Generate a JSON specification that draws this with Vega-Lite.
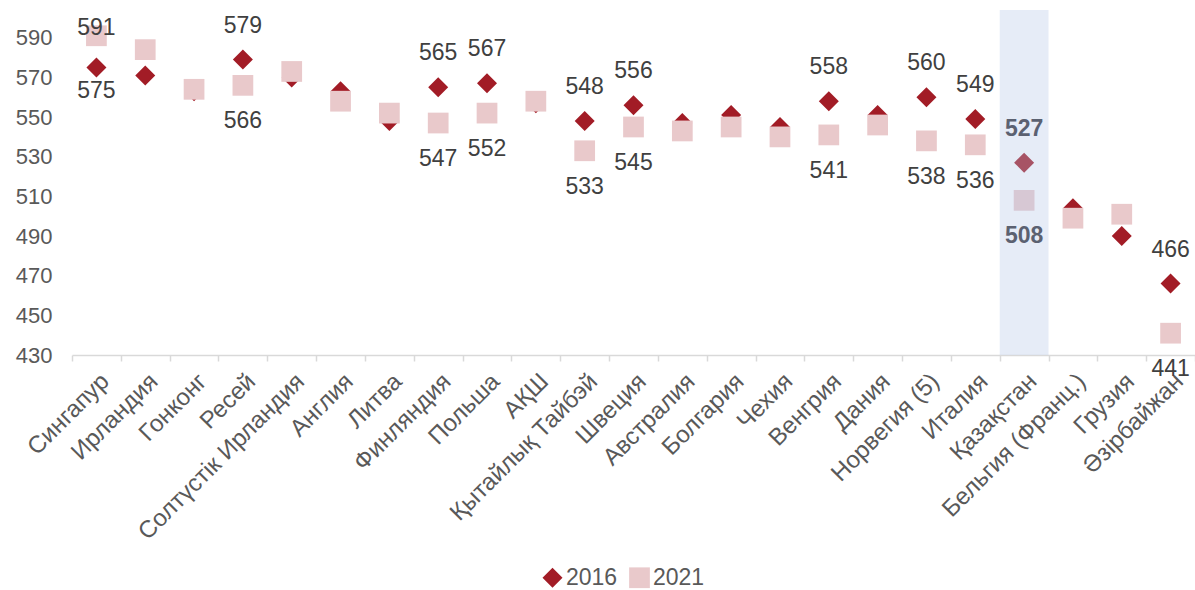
{
  "$schema": "https://vega.github.io/schema/vega-lite/v6.json",
  "autosize": "none",
  "width": 1123,
  "height": 345,
  "padding": {"left": 72, "top": 10, "right": 0, "bottom": 235},
  "config": {"view": {"stroke": null}, "font": "Liberation Sans"},
  "data": {"values": [
    {"country": "Сингапур", "year": "2016", "value": 575, "label": true},
    {"country": "Ирландия", "year": "2016", "value": 571, "label": false},
    {"country": "Гонконг", "year": "2016", "value": 563, "label": false},
    {"country": "Ресей", "year": "2016", "value": 579, "label": true},
    {"country": "Солтүстік Ирландия", "year": "2016", "value": 570, "label": false},
    {"country": "Англия", "year": "2016", "value": 563, "label": false},
    {"country": "Литва", "year": "2016", "value": 548, "label": false},
    {"country": "Финляндия", "year": "2016", "value": 565, "label": true},
    {"country": "Польша", "year": "2016", "value": 567, "label": true},
    {"country": "АҚШ", "year": "2016", "value": 557, "label": false},
    {"country": "Қытайлық Тайбэй", "year": "2016", "value": 548, "label": true},
    {"country": "Швеция", "year": "2016", "value": 556, "label": true},
    {"country": "Австралия", "year": "2016", "value": 547, "label": false},
    {"country": "Болгария", "year": "2016", "value": 551, "label": false},
    {"country": "Чехия", "year": "2016", "value": 545, "label": false},
    {"country": "Венгрия", "year": "2016", "value": 558, "label": true},
    {"country": "Дания", "year": "2016", "value": 551, "label": false},
    {"country": "Норвегия (5)", "year": "2016", "value": 560, "label": true},
    {"country": "Италия", "year": "2016", "value": 549, "label": true},
    {"country": "Қазақстан", "year": "2016", "value": 527, "label": true},
    {"country": "Бельгия (Франц.)", "year": "2016", "value": 504, "label": false},
    {"country": "Грузия", "year": "2016", "value": 490, "label": false},
    {"country": "Әзірбайжан", "year": "2016", "value": 466, "label": true},
    {"country": "Сингапур", "year": "2021", "value": 591, "label": true},
    {"country": "Ирландия", "year": "2021", "value": 584, "label": false},
    {"country": "Гонконг", "year": "2021", "value": 564, "label": false},
    {"country": "Ресей", "year": "2021", "value": 566, "label": true},
    {"country": "Солтүстік Ирландия", "year": "2021", "value": 573, "label": false},
    {"country": "Англия", "year": "2021", "value": 558, "label": false},
    {"country": "Литва", "year": "2021", "value": 552, "label": false},
    {"country": "Финляндия", "year": "2021", "value": 547, "label": true},
    {"country": "Польша", "year": "2021", "value": 552, "label": true},
    {"country": "АҚШ", "year": "2021", "value": 558, "label": false},
    {"country": "Қытайлық Тайбэй", "year": "2021", "value": 533, "label": true},
    {"country": "Швеция", "year": "2021", "value": 545, "label": true},
    {"country": "Австралия", "year": "2021", "value": 543, "label": false},
    {"country": "Болгария", "year": "2021", "value": 545, "label": false},
    {"country": "Чехия", "year": "2021", "value": 540, "label": false},
    {"country": "Венгрия", "year": "2021", "value": 541, "label": true},
    {"country": "Дания", "year": "2021", "value": 546, "label": false},
    {"country": "Норвегия (5)", "year": "2021", "value": 538, "label": true},
    {"country": "Италия", "year": "2021", "value": 536, "label": true},
    {"country": "Қазақстан", "year": "2021", "value": 508, "label": true},
    {"country": "Бельгия (Франц.)", "year": "2021", "value": 499, "label": false},
    {"country": "Грузия", "year": "2021", "value": 501, "label": false},
    {"country": "Әзірбайжан", "year": "2021", "value": 441, "label": true}
  ]},
  "transform": [
    {"joinaggregate": [{"op": "max", "field": "value", "as": "top"}], "groupby": ["country"]}
  ],
  "encoding": {
    "x": {
      "field": "country", "type": "nominal", "sort": null,
      "scale": {"paddingInner": 0, "paddingOuter": 0},
      "axis": {
        "title": null, "labelAngle": -45, "labelFontSize": 24, "labelColor": "#595959",
        "labelPadding": 8, "domainColor": "#d9d9d9", "domainWidth": 1.5,
        "tickColor": "#d9d9d9", "tickWidth": 1.5, "tickSize": 6, "tickBand": "extent",
        "grid": false, "labelOverlap": false, "labelLimit": 400
      }
    }
  },
  "layer": [
    {
      "mark": {"type": "point", "filled": true, "opacity": 1},
      "encoding": {
        "y": {
          "field": "value", "type": "quantitative",
          "scale": {"domain": [430, 604], "nice": false, "zero": false},
          "axis": {
            "title": null, "values": [430, 450, 470, 490, 510, 530, 550, 570, 590],
            "domain": false, "ticks": false, "grid": false,
            "labelFontSize": 22, "labelColor": "#595959", "labelPadding": 20
          }
        },
        "shape": {
          "field": "year", "type": "nominal",
          "scale": {"domain": ["2016", "2021"], "range": ["diamond", "square"]},
          "legend": null
        },
        "size": {
          "field": "year", "type": "nominal",
          "scale": {"domain": ["2016", "2021"], "range": [400, 430]},
          "legend": null
        },
        "color": {
          "field": "year", "type": "nominal",
          "scale": {"domain": ["2016", "2021"], "range": ["#a21c26", "#e9c9cb"]},
          "legend": {
            "title": null, "orient": "none", "direction": "horizontal",
            "legendX": 469, "legendY": 556, "labelFontSize": 23, "labelColor": "#595959",
            "symbolSize": 150, "symbolOpacity": 1,
            "labelOffset": 2, "columnPadding": 10
          }
        }
      }
    },
    {
      "transform": [{"filter": "datum.year === '2016' && datum.country === 'Қазақстан'"}],
      "mark": {"type": "rect", "color": "#b3c5e6", "opacity": 0.33},
      "encoding": {
        "y": {"datum": 430, "type": "quantitative"},
        "y2": {"datum": 604}
      }
    },
    {
      "transform": [{"filter": "datum.label && datum.value === datum.top && datum.country !== 'Сингапур' && datum.country !== 'Қазақстан'"}],
      "mark": {"type": "text", "fontSize": 23, "color": "#404040", "baseline": "middle", "dy": -34},
      "encoding": {
        "y": {"field": "value", "type": "quantitative"},
        "text": {"field": "value", "type": "quantitative"}
      }
    },
    {
      "transform": [{"filter": "datum.label && datum.value < datum.top && datum.country !== 'Сингапур' && datum.country !== 'Қазақстан'"}],
      "mark": {"type": "text", "fontSize": 23, "color": "#404040", "baseline": "middle", "dy": 36},
      "encoding": {
        "y": {"field": "value", "type": "quantitative"},
        "text": {"field": "value", "type": "quantitative"}
      }
    },
    {
      "transform": [{"filter": "datum.country === 'Сингапур' && datum.value === datum.top"}],
      "mark": {"type": "text", "fontSize": 23, "color": "#404040", "baseline": "middle", "dy": -8},
      "encoding": {
        "y": {"field": "value", "type": "quantitative"},
        "text": {"field": "value", "type": "quantitative"}
      }
    },
    {
      "transform": [{"filter": "datum.country === 'Сингапур' && datum.value < datum.top"}],
      "mark": {"type": "text", "fontSize": 23, "color": "#404040", "baseline": "middle", "dy": 23},
      "encoding": {
        "y": {"field": "value", "type": "quantitative"},
        "text": {"field": "value", "type": "quantitative"}
      }
    },
    {
      "transform": [{"filter": "datum.country === 'Қазақстан' && datum.value === datum.top"}],
      "mark": {"type": "text", "fontSize": 23, "fontWeight": "bold", "color": "#5b6171", "baseline": "middle", "dy": -34},
      "encoding": {
        "y": {"field": "value", "type": "quantitative"},
        "text": {"field": "value", "type": "quantitative"}
      }
    },
    {
      "transform": [{"filter": "datum.country === 'Қазақстан' && datum.value < datum.top"}],
      "mark": {"type": "text", "fontSize": 23, "fontWeight": "bold", "color": "#5b6171", "baseline": "middle", "dy": 36},
      "encoding": {
        "y": {"field": "value", "type": "quantitative"},
        "text": {"field": "value", "type": "quantitative"}
      }
    }
  ]
}
